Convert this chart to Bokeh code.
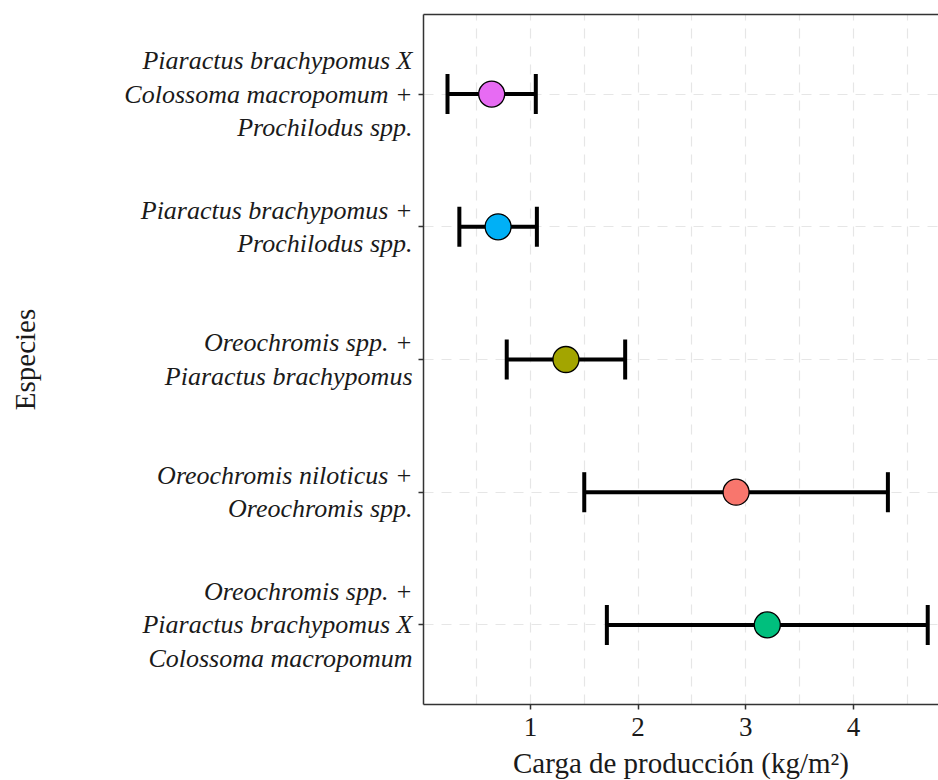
from bokeh.plotting import figure
from bokeh.models import (ColumnDataSource, Range1d, FixedTicker, SingleIntervalTicker,
                          Whisker, TeeHead, LinearAxis)
from bokeh.embed import file_html
from bokeh.resources import INLINE

# ---- data (top to bottom) ----
species = [
    "Piaractus brachypomus X\nColossoma macropomum +\nProchilodus spp.",
    "Piaractus brachypomus +\nProchilodus spp.",
    "Oreochromis spp. +\nPiaractus brachypomus",
    "Oreochromis niloticus +\nOreochromis spp.",
    "Oreochromis spp. +\nPiaractus brachypomus X\nColossoma macropomum",
]
mean_load = [0.64, 0.70, 1.33, 2.91, 3.20]
sd_load = [0.41, 0.36, 0.55, 1.41, 1.49]
colors = ["#E76BF3", "#00B0F6", "#A3A500", "#F8766D", "#00BF7D"]
x_ticks = [1, 2, 3, 4]

n = len(species)
ypos = [n - i for i in range(n)]
lo = [m - s for m, s in zip(mean_load, sd_load)]
hi = [m + s for m, s in zip(mean_load, sd_load)]
src = ColumnDataSource(dict(y=ypos, mean=mean_load, lo=lo, hi=hi, color=colors))

x_start = min(lo) - 0.05 * (max(hi) - min(lo))
x_end = 4.79  # panel is cut at the right edge of the picture

FONT = "Liberation Serif"
DARK = "#333333"

p = figure(frame_width=515, frame_height=690,
           x_range=Range1d(x_start, x_end), y_range=Range1d(0.4, n + 0.6),
           output_backend="svg", toolbar_location=None,
           min_border_left=423, min_border_right=0, min_border_top=14, min_border_bottom=0)
p.outline_line_color = None
p.background_fill_color = "white"

# grids
p.xgrid.ticker = SingleIntervalTicker(interval=0.5)
p.ygrid.ticker = FixedTicker(ticks=ypos)
for g in (p.xgrid, p.ygrid):
    g.grid_line_color = "#e6e6e6"
    g.grid_line_width = 1.2
    g.grid_line_dash = "10 8"

# error bars
w = Whisker(source=src, base="y", lower="lo", upper="hi", dimension="width",
            line_width=4, line_color="black", level="underlay",
            lower_head=TeeHead(size=40, line_width=4, line_color="black"),
            upper_head=TeeHead(size=40, line_width=4, line_color="black"))
p.add_layout(w)

p.scatter(x="mean", y="y", source=src, size=26, fill_color="color",
          line_color="black", line_width=1.3)

# x axis
xa = p.xaxis[0]
xa.ticker = FixedTicker(ticks=x_ticks)
xa.minor_tick_line_color = None
xa.major_tick_in = 0
xa.major_tick_out = 5
xa.major_tick_line_color = DARK
xa.major_tick_line_width = 1.5
xa.axis_line_color = DARK
xa.axis_line_width = 1.5
xa.major_label_text_font = FONT
xa.major_label_text_font_size = "27px"
xa.major_label_text_color = "#1a1a1a"
xa.major_label_standoff = 8
xa.axis_label = "Carga de producción (kg/m²)"
xa.axis_label_text_font = FONT
xa.axis_label_text_font_style = "normal"
xa.axis_label_text_font_size = "29px"
xa.axis_label_text_color = "#1a1a1a"
xa.axis_label_standoff = 8

# y axis
ya = p.yaxis[0]
ya.ticker = FixedTicker(ticks=ypos)
ya.major_label_overrides = {y: s for y, s in zip(ypos, species)}
ya.minor_tick_line_color = None
ya.major_tick_in = 0
ya.major_tick_out = 5
ya.major_tick_line_color = DARK
ya.major_tick_line_width = 1.5
ya.axis_line_color = DARK
ya.axis_line_width = 1.5
ya.major_label_text_font = FONT
ya.major_label_text_font_style = "italic"
ya.major_label_text_font_size = "26px"
ya.major_label_text_color = "#1a1a1a"
ya.major_label_text_line_height = 1.15
ya.major_label_standoff = 6
ya.axis_label = "Especies"
ya.axis_label_text_font = FONT
ya.axis_label_text_font_style = "normal"
ya.axis_label_text_font_size = "29px"
ya.axis_label_text_color = "#1a1a1a"
ya.axis_label_standoff = 80

# top border of the panel
top = LinearAxis(ticker=FixedTicker(ticks=[]), axis_line_color=DARK, axis_line_width=1.5,
                 major_tick_out=0, major_tick_in=0, minor_tick_out=0, minor_tick_in=0,
                 major_label_standoff=0, axis_label_standoff=0)
p.add_layout(top, "above")

open("out.html", "w").write(file_html(p, INLINE))
